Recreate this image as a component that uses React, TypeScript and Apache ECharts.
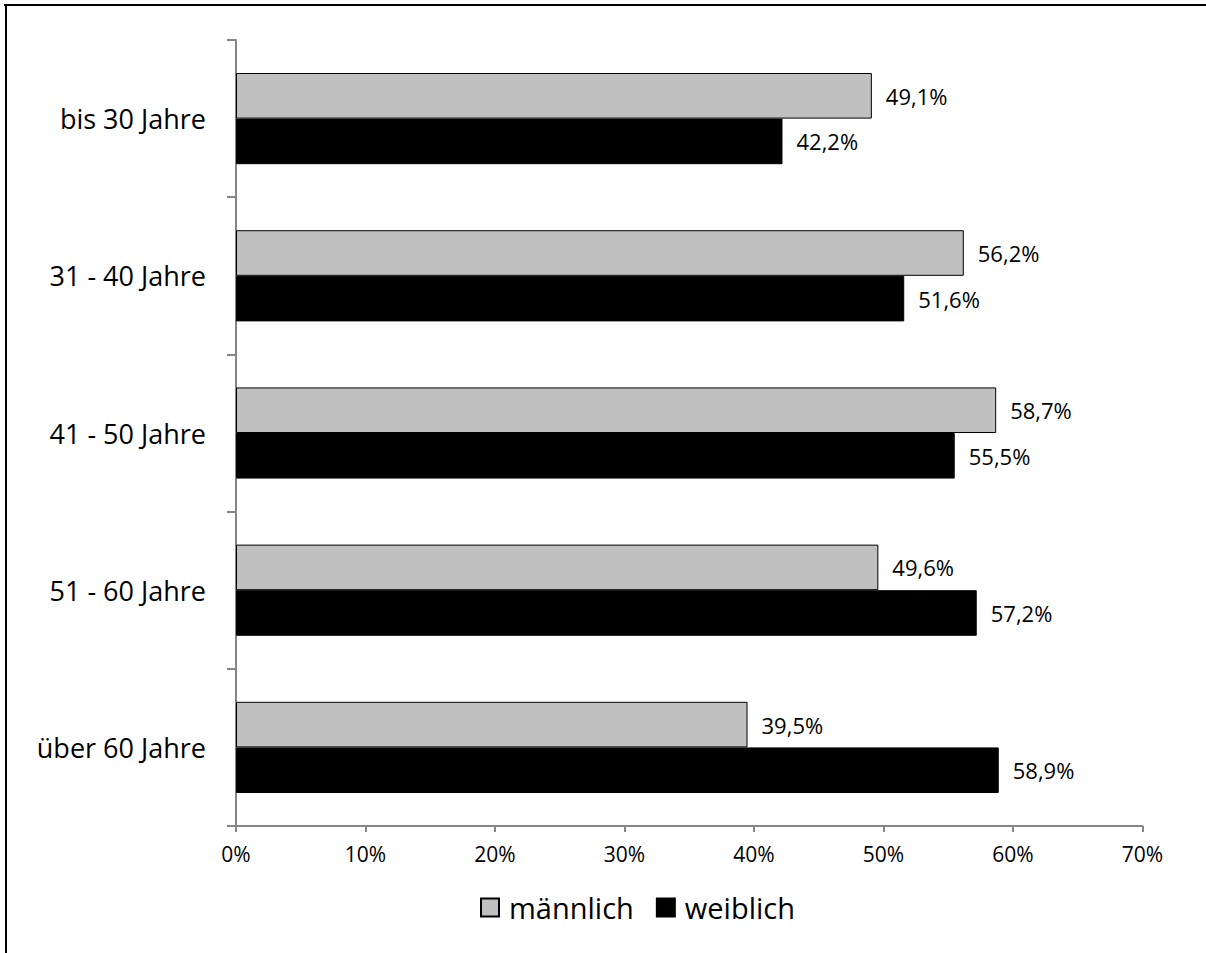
import React, { useEffect, useRef } from "react";
import * as echarts from "echarts";

const categories = ["bis 30 Jahre", "31 - 40 Jahre", "41 - 50 Jahre", "51 - 60 Jahre", "über 60 Jahre"];
const maleValues = [49.1, 56.2, 58.7, 49.6, 39.5];
const femaleValues = [42.2, 51.6, 55.5, 57.2, 58.9];
const seriesNames = ["männlich", "weiblich"];

const FONT = "'Open Sans', 'Noto Sans', sans-serif";
const fmt = (v: number) => v.toFixed(1).replace(".", ",") + "%";

export default function App() {
  const ref = useRef<HTMLDivElement>(null);
  useEffect(() => {
    if (!ref.current) return;
    const chart = echarts.init(ref.current, null, { renderer: "svg" });
    const axisColor = "#868686";
    const labelCfg = {
      show: true,
      position: "right",
      distance: 14,
      color: "#000",
      fontFamily: FONT,
      fontSize: 22,
      formatter: (p: any) => fmt(p.value),
    };
    chart.setOption({
      animation: false,
      textStyle: { fontFamily: FONT },
      graphic: [
        { type: "line", shape: { x1: 4, y1: 5, x2: 1206, y2: 5 }, style: { stroke: "#000", lineWidth: 2 }, silent: true },
        { type: "line", shape: { x1: 6, y1: 4, x2: 6, y2: 953 }, style: { stroke: "#000", lineWidth: 2 }, silent: true },
      ],
      grid: { left: 236, right: 63.5, top: 40, bottom: 127, containLabel: false },
      legend: {
        data: seriesNames,
        left: 475,
        top: 888,
        icon: "rect",
        itemWidth: 18,
        itemHeight: 18,
        itemGap: 22,
        textStyle: { fontFamily: FONT, fontSize: 29, color: "#000", padding: [0, 0, 0, 5] },
      },
      xAxis: {
        type: "value",
        min: 0,
        max: 70,
        interval: 10,
        axisLine: { show: true, lineStyle: { color: axisColor, width: 2 } },
        axisTick: { show: true, length: 6, lineStyle: { color: axisColor, width: 2 } },
        splitLine: { show: false },
        axisLabel: { formatter: "{value}%", fontFamily: FONT, fontSize: 21, color: "#000", margin: 17 },
      },
      yAxis: {
        type: "category",
        data: categories,
        inverse: true,
        axisLine: { show: true, lineStyle: { color: axisColor, width: 2 } },
        axisTick: { show: true, length: 9, lineStyle: { color: axisColor, width: 2 } },
        axisLabel: { fontFamily: FONT, fontSize: 27, color: "#000", margin: 30 },
      },
      series: [
        {
          name: seriesNames[0],
          type: "bar",
          data: maleValues,
          barGap: "0%",
          barCategoryGap: "42%",
          itemStyle: { color: "#c0c0c0", borderColor: "#000", borderWidth: 1 },
          label: labelCfg,
        },
        {
          name: seriesNames[1],
          type: "bar",
          data: femaleValues,
          barGap: "0%",
          barCategoryGap: "42%",
          itemStyle: { color: "#000", borderColor: "#000", borderWidth: 1 },
          label: labelCfg,
        },
      ],
    });
    return () => chart.dispose();
  }, []);
  return (
    <div
      ref={ref}
      style={{ position: "fixed", left: 0, top: 0, width: 1206, height: 953, background: "#fff", overflow: "hidden" }}
    />
  );
}
